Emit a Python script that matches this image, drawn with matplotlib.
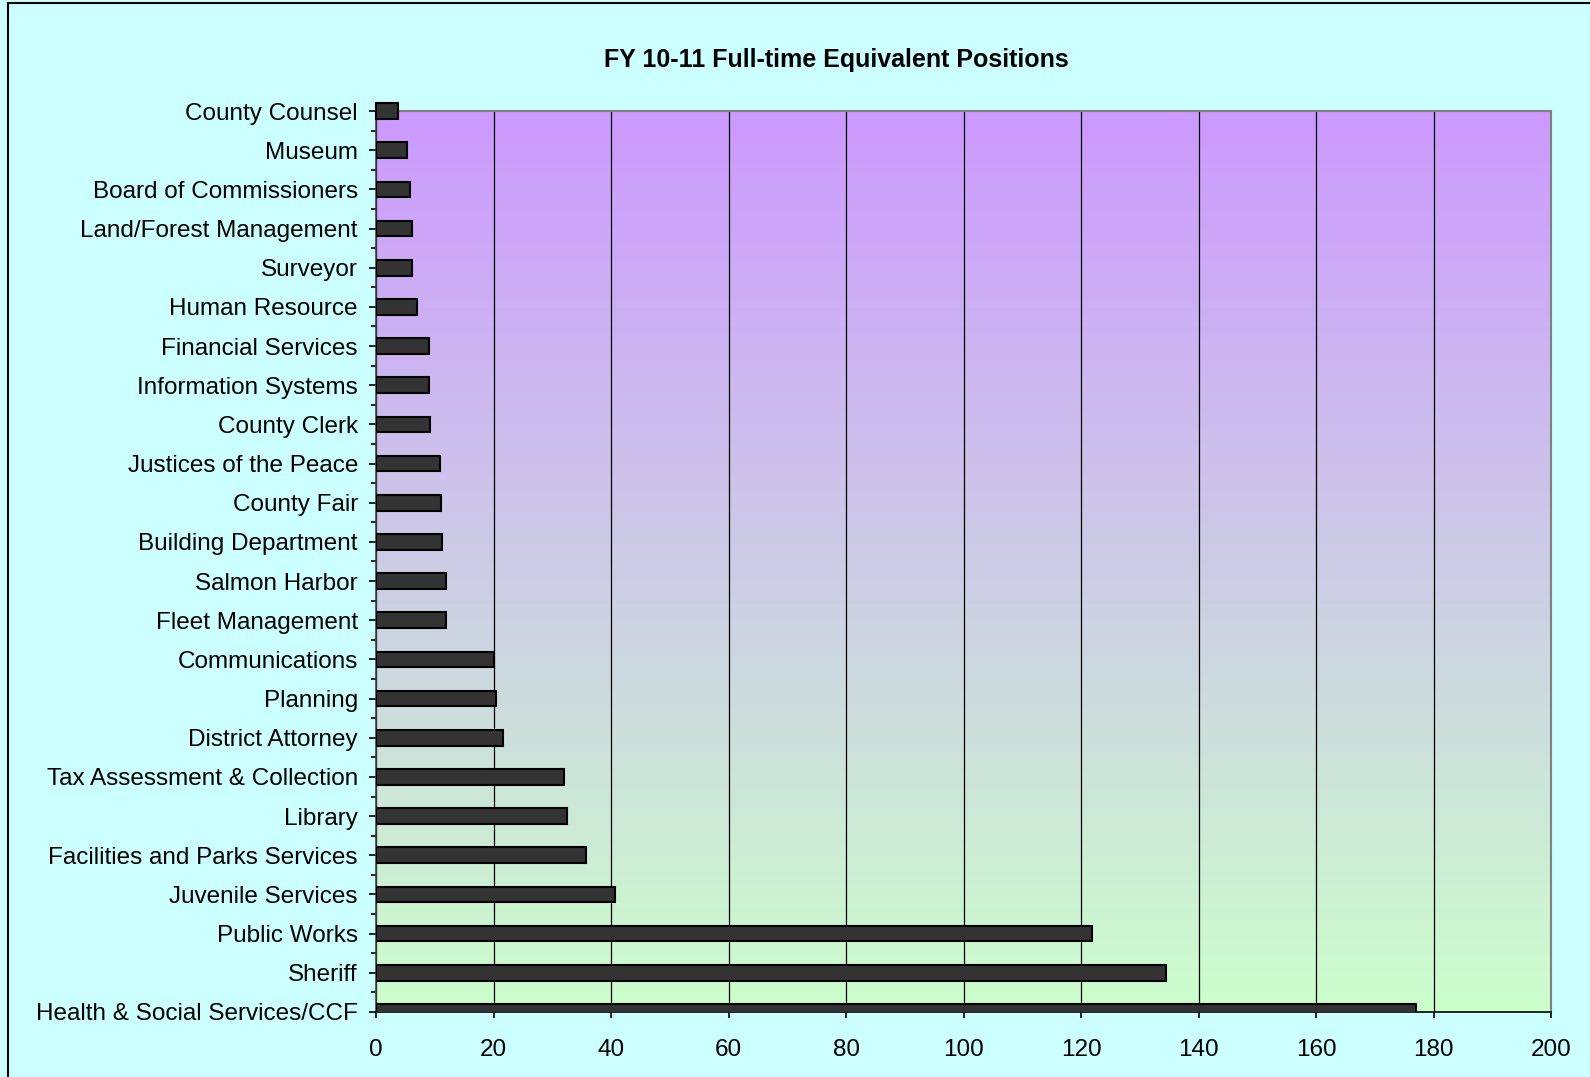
import numpy as np
import matplotlib.pyplot as plt
from matplotlib.patches import Rectangle
from matplotlib.colors import LinearSegmentedColormap

plt.rcParams['font.family'] = ['Liberation Sans', 'DejaVu Sans']

departments = [
    'County Counsel', 'Museum', 'Board of Commissioners', 'Land/Forest Management',
    'Surveyor', 'Human Resource', 'Financial Services', 'Information Systems',
    'County Clerk', 'Justices of the Peace', 'County Fair', 'Building Department',
    'Salmon Harbor', 'Fleet Management', 'Communications', 'Planning',
    'District Attorney', 'Tax Assessment & Collection', 'Library',
    'Facilities and Parks Services', 'Juvenile Services', 'Public Works',
    'Sheriff', 'Health & Social Services/CCF',
]
fte = [3.7, 5.3, 5.7, 6.1, 6.1, 6.9, 9.1, 9.1, 9.2, 10.9, 11.1, 11.3,
       11.9, 11.9, 20.0, 20.5, 21.6, 32.0, 32.5, 35.7, 40.7, 121.8, 134.5, 177.0]
x_ticks = [0, 20, 40, 60, 80, 100, 120, 140, 160, 180, 200]

fig = plt.figure(figsize=(15.9, 10.77), dpi=100, facecolor='#CCFFFF')
ax = fig.add_axes([0.2365, 0.0604, 0.739, 0.8365])

# gradient plot area, purple on top fading to green at the bottom
cmap = LinearSegmentedColormap.from_list('bg', ['#CCFFCC', '#CC99FF'])
grad = np.linspace(0, 1, 256).reshape(-1, 1)
ax.imshow(grad, cmap=cmap, aspect='auto', extent=[0, 1, 0, 1],
          transform=ax.transAxes, origin='lower', zorder=0)

y = np.arange(len(departments))
bars = ax.barh(y, fte, height=0.4, color='#333333', edgecolor='black',
               linewidth=1.5, zorder=3)
bars[0].set_clip_on(False)

ax.set_xlim(0, 200)
ax.set_ylim(len(departments) - 1, 0)
ax.set_xticks(x_ticks)
ax.set_yticks(y)
ax.set_yticklabels(departments)
ax.set_yticks(y[:-1] + 0.5, minor=True)
ax.xaxis.grid(True, color='black', linewidth=0.9, zorder=1)
ax.set_axisbelow(True)

ax.tick_params(axis='y', which='major', direction='out', length=5, width=1.2,
               pad=8, labelsize=17.5)
ax.tick_params(axis='y', which='minor', direction='out', length=3.6, width=1.2)
ax.tick_params(axis='x', direction='out', length=4.5, width=1.2, pad=15,
               labelsize=17.5)

for side in ['top', 'right']:
    ax.spines[side].set_color('#808080')
    ax.spines[side].set_linewidth(1.5)
ax.spines['left'].set_color('#404040')
ax.spines['bottom'].set_color('black')
for side in ['left', 'bottom']:
    ax.spines[side].set_linewidth(1.2)

fig.text(0.526, 0.944, 'FY 10-11 Full-time Equivalent Positions',
         ha='center', va='center', fontsize=18, fontweight='bold')

# chart frame, only the left and top edges are inside the image
fig.patches.append(Rectangle((8 / 1590, -0.1), 1.2, 1 - 3 / 1077 + 0.1,
                             transform=fig.transFigure, fill=False,
                             edgecolor='black', linewidth=1.5))

fig.savefig('out.png', dpi=100, facecolor=fig.get_facecolor())
